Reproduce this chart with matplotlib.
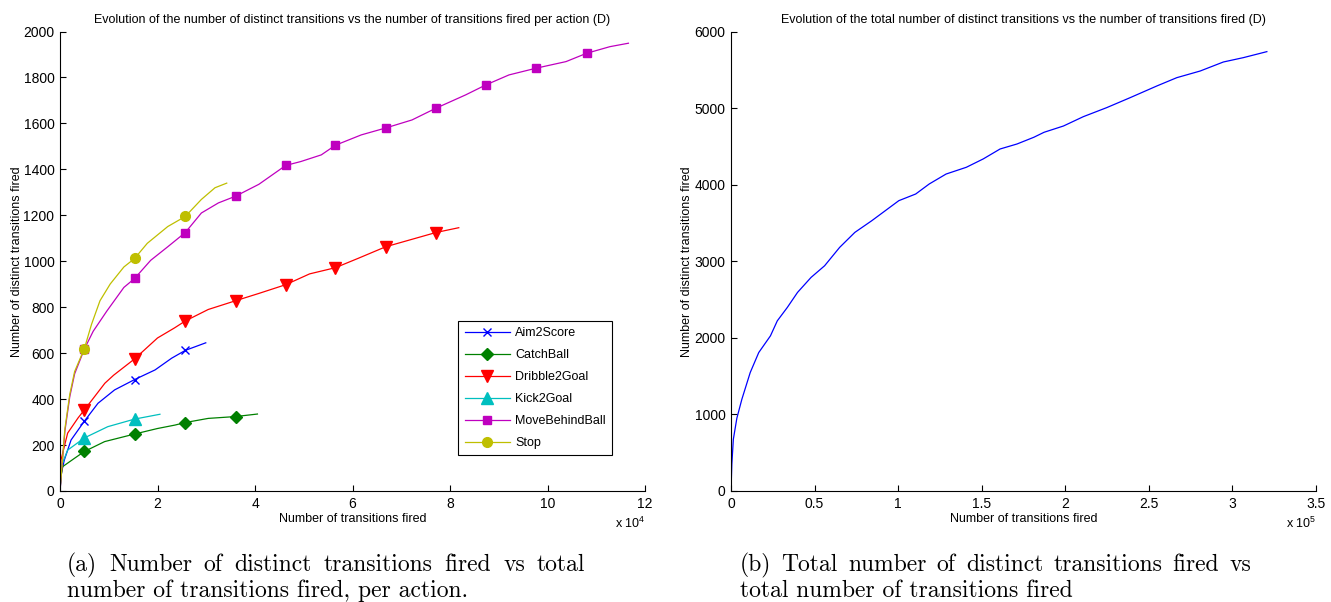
import matplotlib
matplotlib.use("Agg")
import matplotlib.pyplot as plt

plt.rcParams['font.family'] = ['Liberation Sans', 'DejaVu Sans']
plt.rcParams['mathtext.default'] = 'regular'

# positions (x 10^4) where matlab drew the markers
MARK_X = [0.5, 1.53, 2.57, 3.6, 4.63, 5.65, 6.68, 7.71, 8.73, 9.76, 10.8]

# left plot, x in units of 1e4
aim_x = [0, 0.03, 0.089, 0.227, 0.5, 0.78, 1.12, 1.53, 1.95, 2.29, 2.57, 2.99]
aim_y = [0, 80, 135, 222, 304, 382, 440, 485, 527, 578, 612, 645]

catch_x = [0, 0.02, 0.054, 0.295, 0.5, 0.915, 1.53, 2.0, 2.36, 2.57, 3.04, 3.6, 4.05]
catch_y = [0, 63, 106, 142, 172, 215, 248, 272, 287, 298, 316, 324, 335]

dribble_x = [0, 0.02, 0.157, 0.37, 0.5, 0.92, 1.1, 1.53, 2.0, 2.35, 2.57, 3.04,
             3.6, 4.08, 4.63, 5.12, 5.65, 6.12, 6.68, 7.71, 8.18]
dribble_y = [0, 135, 252, 318, 353, 469, 504, 575, 666, 710, 740, 790,
             828, 860, 898, 945, 972, 1013, 1063, 1125, 1146]

kick_x = [0, 0.03, 0.157, 0.5, 0.98, 1.53, 2.05]
kick_y = [0, 110, 178, 231, 280, 313, 334]

move_x = [0, 0.1, 0.2, 0.3, 0.5, 0.68, 0.96, 1.31, 1.53, 1.86, 2.21, 2.57, 2.9,
          3.25, 3.6, 4.08, 4.63, 4.94, 5.36, 5.65, 6.18, 6.68, 7.22, 7.71, 8.32,
          8.73, 9.21, 9.76, 10.38, 10.8, 11.28, 11.66]
move_y = [0, 260, 410, 510, 618, 695, 783, 886, 925, 1004, 1063, 1125, 1210,
          1254, 1283, 1335, 1417, 1434, 1463, 1505, 1550, 1580, 1615, 1666, 1724,
          1767, 1811, 1840, 1869, 1905, 1934, 1949]

stop_x = [0, 0.1, 0.2, 0.3, 0.5, 0.646, 0.82, 1.03, 1.31, 1.53, 1.79, 2.21,
          2.57, 2.9, 3.18, 3.42]
stop_y = [0, 270, 420, 520, 620, 725, 828, 901, 975, 1012, 1078, 1151,
          1195, 1269, 1320, 1340]

# right plot, x in units of 1e5
tot_x = [0, 0.005, 0.014, 0.035, 0.065, 0.115, 0.166, 0.236, 0.277, 0.337, 0.398,
         0.479, 0.56, 0.65, 0.741, 0.842, 0.923, 1.004, 1.105, 1.186, 1.287,
         1.408, 1.509, 1.61, 1.711, 1.812, 1.873, 1.989, 2.108, 2.248, 2.388,
         2.547, 2.667, 2.807, 2.946, 3.066, 3.206]
tot_y = [0, 350, 675, 950, 1198, 1547, 1808, 2026, 2222, 2397, 2593,
         2789, 2941, 3181, 3377, 3529, 3660, 3791, 3878, 4009, 4139,
         4227, 4336, 4466, 4531, 4619, 4684, 4766, 4888, 5006, 5136,
         5288, 5397, 5484, 5602, 5659, 5737]

series = [
    ("Aim2Score", aim_x, aim_y, "#0000ff", "x", 6),
    ("CatchBall", catch_x, catch_y, "#008000", "D", 6),
    ("Dribble2Goal", dribble_x, dribble_y, "#ff0000", "v", 8),
    ("Kick2Goal", kick_x, kick_y, "#00bfbf", "^", 8),
    ("MoveBehindBall", move_x, move_y, "#bf00bf", "s", 6),
    ("Stop", stop_x, stop_y, "#bfbf00", "o", 7),
]

W, H = 1331, 602


def matlab_axes(ax):
    for s in ["top", "right"]:
        ax.spines[s].set_visible(False)
    for s in ["left", "bottom"]:
        ax.spines[s].set_linewidth(0.8)
    ax.tick_params(direction="in", length=4, width=0.8, labelsize=10, pad=4)


fig = plt.figure(figsize=(W / 100, H / 100), dpi=100)
ax1 = fig.add_axes([60 / W, 1 - 491 / H, 585 / W, 459.5 / H])
ax2 = fig.add_axes([731 / W, 1 - 491 / H, 585 / W, 459.5 / H])

for name, xs, ys, col, mk, ms in series:
    marks = [i for i, x in enumerate(xs) if x in MARK_X]
    ax1.plot(xs, ys, color=col, lw=0.9, marker=mk, ms=ms, markevery=marks,
             mfc=col, mec=col, label=name)

matlab_axes(ax1)
ax1.set_xlim(0, 12)
ax1.set_ylim(0, 2000)
ax1.set_xticks(range(0, 13, 2))
ax1.set_yticks(range(0, 2001, 200))
ax1.set_title("Evolution of the number of distinct transitions vs the number of transitions fired per action (D)",
              fontsize=9, pad=6)
ax1.set_xlabel("Number of transitions fired", fontsize=9, labelpad=2)
ax1.set_ylabel("Number of distinct transitions fired", fontsize=9, labelpad=0.5)
ax1.text(1.0, -0.055, r"x 10$^{4}$", transform=ax1.transAxes, ha="right", va="top", fontsize=9)
leg = ax1.legend(loc="lower right", bbox_to_anchor=(0.944, 0.078), borderaxespad=0,
                 fontsize=9, fancybox=False, edgecolor="black", framealpha=1,
                 handlelength=3.6, handletextpad=0.45, borderpad=0.5, labelspacing=0.8)
leg.get_frame().set_linewidth(0.8)

ax2.plot(tot_x, tot_y, color="#0000ff", lw=0.9)
matlab_axes(ax2)
ax2.set_xlim(0, 3.5)
ax2.set_ylim(0, 6000)
ax2.set_xticks([0, 0.5, 1, 1.5, 2, 2.5, 3, 3.5])
ax2.set_xticklabels(["0", "0.5", "1", "1.5", "2", "2.5", "3", "3.5"])
ax2.set_yticks(range(0, 6001, 1000))
ax2.set_title("Evolution of the total number of distinct transitions vs the number of transitions fired (D)",
              fontsize=9, pad=6)
ax2.set_xlabel("Number of transitions fired", fontsize=9, labelpad=2)
ax2.set_ylabel("Number of distinct transitions fired", fontsize=9, labelpad=1)
ax2.text(1.0, -0.055, r"x 10$^{5}$", transform=ax2.transAxes, ha="right", va="top", fontsize=9)

# captions (serif, like the latex document); first lines are justified
cap = dict(family="cmr10", fontsize=17, va="center", ha="left")
renderer = fig.canvas.get_renderer()


def justified(x0, x1, y, line):
    words = line.split()
    texts = [fig.text(0, 1 - y / H, w, **cap) for w in words]
    widths = [t.get_window_extent(renderer).width for t in texts]
    gap = (x1 - x0 - sum(widths)) / (len(words) - 1)
    x = x0
    for t, w in zip(texts, widths):
        t.set_x(x / W)
        x += w + gap


justified(67, 585, 565, "(a) Number of distinct transitions fired vs total")
fig.text(67 / W, 1 - 591 / H, "number of transitions fired, per action.", **cap)
justified(740, 1251, 565, "(b) Total number of distinct transitions fired vs")
fig.text(740 / W, 1 - 591 / H, "total number of transitions fired", **cap)

fig.savefig("out.png", dpi=100)
